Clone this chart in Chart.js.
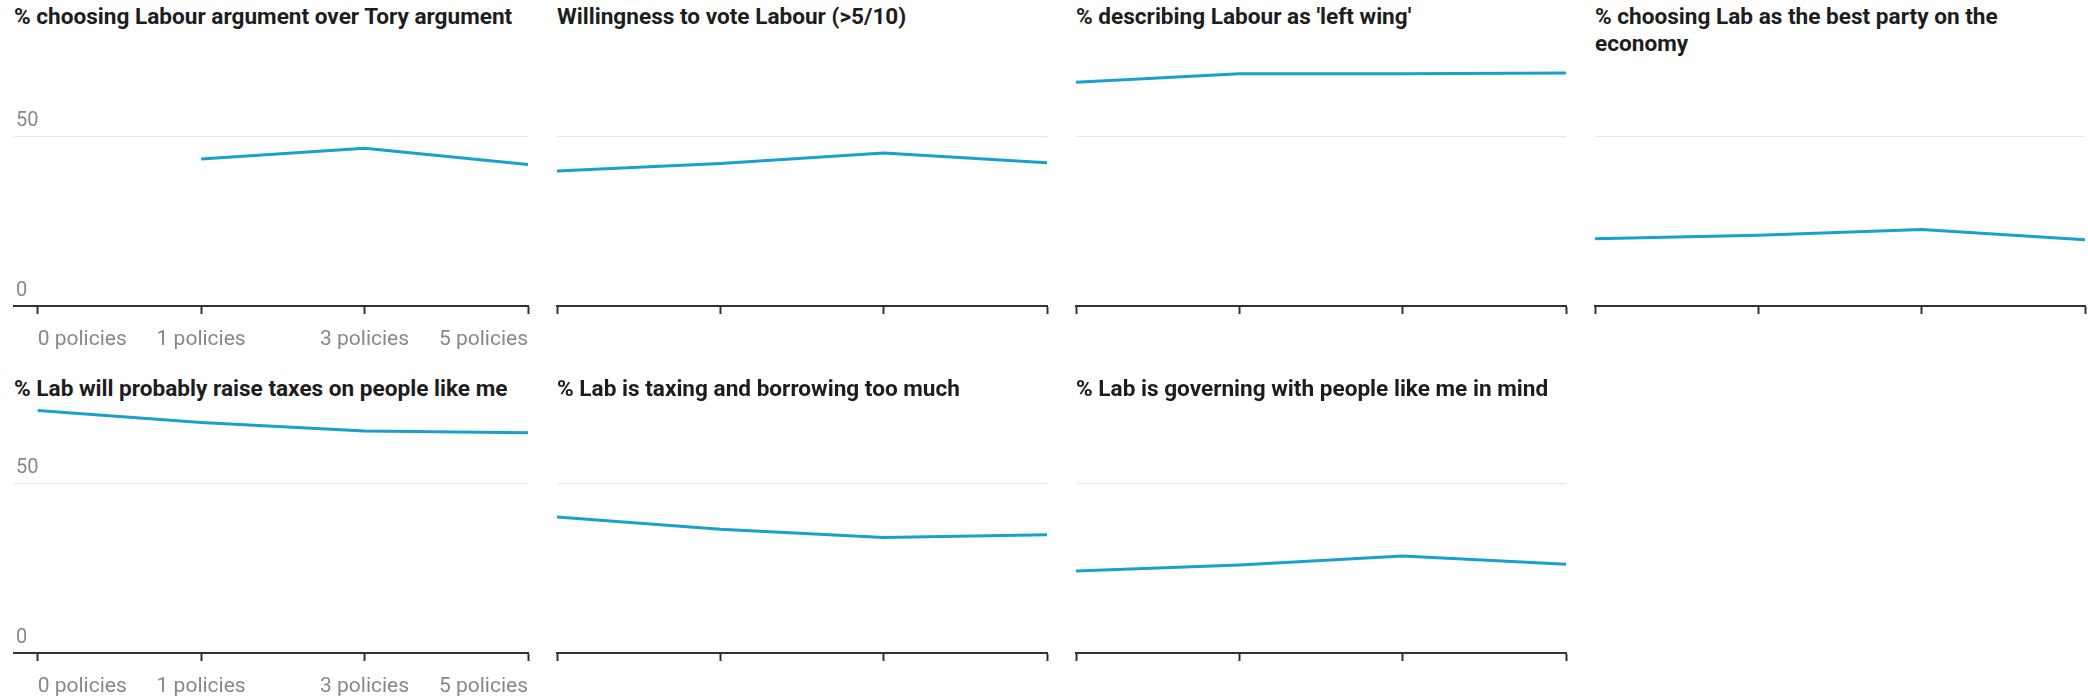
<!DOCTYPE html>
<html>
<head>
<meta charset="utf-8">
<script src="https://cdn.jsdelivr.net/npm/chart.js@4"></script>
<style>
html, body { margin: 0; padding: 0; background: #fff; }
body { width: 2088px; height: 697px; overflow: hidden; position: relative; font-family: Roboto, sans-serif; }
.title { position: absolute; font-family: Roboto, sans-serif; font-weight: 700; font-size: 22.6px; line-height: 27px; color: #1d1d1d; white-space: pre-line; }
canvas { position: absolute; }
</style>
</head>
<body>
<script>
// ---- data ----
const categories = ['0 policies', '1 policies', '3 policies', '5 policies'];
const yTickValues = [0, 50];

const titles = [
  '% choosing Labour argument over Tory argument',
  'Willingness to vote Labour (>5/10)',
  "% describing Labour as 'left wing'",
  '% choosing Lab as the best party on the\neconomy',
  '% Lab will probably raise taxes on people like me',
  '% Lab is taxing and borrowing too much',
  '% Lab is governing with people like me in mind'
];

const labourArgument  = [null, 43.2, 46.4, 41.6];
const willingToVote   = [39.7, 41.9, 45.0, 42.1];
const leftWing        = [65.8, 68.3, 68.3, 68.5];
const bestOnEconomy   = [19.8, 20.8, 22.5, 19.5];
const raiseTaxes      = [71.3, 67.8, 65.3, 64.8];
const taxingBorrowing = [40.0, 36.4, 34.0, 34.8];
const governing       = [24.1, 25.9, 28.5, 26.1];

const seriesList = [labourArgument, willingToVote, leftWing, bestOnEconomy,
                    raiseTaxes, taxingBorrowing, governing];

// ---- layout ----
const colLeft = [14, 557, 1076, 1595];
const colWidth = [514, 490, 490, 490];
const firstColXMin = -0.145;
const rowCanvasTop = [31, 377.7];
const rowTitleTop = [2.5, 375.2];
const padL = 14, padR = 14, padT = 20, yAxisW = 4;
const plotH = 255;
const xFontSize = 21, xTickLen = 8, xPad = 13.2;
const xAxisH = xTickLen + xFontSize * 1.2 + 2 * xPad;
const canvasH = Math.ceil(padT + plotH + xAxisH);
const padB = canvasH - (padT + plotH + xAxisH);

const LINE = '#18a1cd';
const AXIS = '#333333';
const GRID = '#e6e6e6';
const LABEL = '#888888';

seriesList.forEach((values, idx) => {
  const row = Math.floor(idx / 4);
  const col = idx % 4;
  const first = col === 0;

  const t = document.createElement('div');
  t.className = 'title';
  t.textContent = titles[idx];
  t.style.left = colLeft[col] + 'px';
  t.style.top = rowTitleTop[row] + 'px';
  t.style.width = (colWidth[col] + 20) + 'px';
  document.body.appendChild(t);

  const c = document.createElement('canvas');
  const w = colWidth[col] + padL + yAxisW + padR;
  c.width = w;
  c.height = canvasH;
  c.style.width = w + 'px';
  c.style.height = canvasH + 'px';
  c.style.left = (colLeft[col] - padL - yAxisW) + 'px';
  c.style.top = rowCanvasTop[row] + 'px';
  document.body.appendChild(c);

  new Chart(c, {
    type: 'line',
    data: {
      datasets: [{
        data: values.map((v, i) => ({ x: i, y: v })),
        borderColor: LINE,
        borderWidth: 3,
        pointRadius: 0,
        pointHoverRadius: 0,
        tension: 0,
        fill: false,
        spanGaps: false,
        borderJoinStyle: 'round'
      }]
    },
    options: {
      responsive: false,
      animation: false,
      devicePixelRatio: 1,
      events: [],
      layout: { padding: { left: padL, right: padR, top: padT, bottom: padB } },
      plugins: { legend: { display: false }, tooltip: { enabled: false }, title: { display: false } },
      scales: {
        x: {
          type: 'linear',
          min: first ? firstColXMin : 0,
          max: categories.length - 1,
          afterBuildTicks: s => { s.ticks = categories.map((_, i) => ({ value: i })); },
          grid: { display: true, drawOnChartArea: false, drawTicks: true, tickLength: xTickLen, tickWidth: 2, tickColor: AXIS },
          border: { display: true, color: AXIS, width: 2 },
          ticks: {
            display: true, align: 'inner', padding: xPad, maxRotation: 0, minRotation: 0, autoSkip: false,
            color: LABEL, font: { family: 'Roboto', size: xFontSize },
            callback: v => first ? categories[v] : ''
          }
        },
        y: {
          type: 'linear',
          position: 'left',
          min: 0,
          max: 75,
          afterBuildTicks: s => { s.ticks = yTickValues.map(v => ({ value: v })); },
          grid: {
            drawTicks: false, lineWidth: 1,
            color: ctx => (ctx.tick && ctx.tick.value === 0) ? 'rgba(0,0,0,0)' : GRID
          },
          border: { display: false },
          ticks: {
            mirror: true, padding: 2, labelOffset: -15.5, crossAlign: 'near',
            color: LABEL, font: { family: 'Roboto', size: 20 },
            callback: v => first ? String(v) : ''
          }
        }
      }
    }
  });
});
</script>
</body>
</html>
